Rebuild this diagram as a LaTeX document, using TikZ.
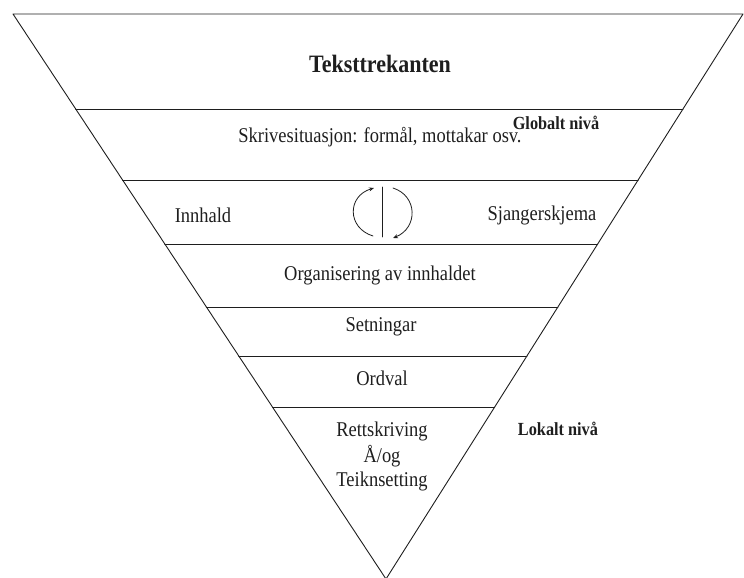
\documentclass[tikz,border=0pt]{standalone}
\usepackage{fontspec}
\setmainfont[FakeStretch=0.88]{Liberation Serif}
\usetikzlibrary{calc,arrows.meta}
\definecolor{ink}{HTML}{1E1E1E}
\tikzset{
  tline/.style={draw=ink, line width=0.9pt},
  lbl/.style={inner sep=0pt, text=ink, font=\fontsize{21}{25}\selectfont},
  niva/.style={inner sep=0pt, text=ink, font=\bfseries\fontsize{18.5}{22}\selectfont},
  turnarrow/.style={draw=ink, line width=0.8pt, -{Stealth[length=5pt,width=4pt]}}
}
\begin{document}
\begin{tikzpicture}[x=1pt, y=-1pt, line join=round, line cap=round]
\useasboundingbox (0,0) rectangle (744,578);
\coordinate (tl) at (13,14); \coordinate (tr) at (743,14); \coordinate (apex) at (386,579);
\draw[tline] (tl)--(tr)--(apex)--cycle;
% the layers of the triangle
\foreach \yy in {109,180,244,307,356,407}{
  \pgfmathsetmacro\t{(\yy-14)/565}
  \draw[tline] ($(tl)!\t!(apex)$) -- ($(tr)!\t!(apex)$);
}
\node[inner sep=0pt, text=ink, font=\bfseries\fontsize{25}{29}\selectfont] (tittel) at (380,64) {Teksttrekanten};
\node[niva] (global) at (556,123) {Globalt nivå};
\node[lbl] (situasjon) at (380,137) {Skrivesituasjon: formål, mottakar osv.};
\node[lbl] (innhald) at (203,215) {Innhald};
\node[lbl] (sjanger) at (542,215) {Sjangerskjema};
\node[lbl] (org) at (380,275) {Organisering av innhaldet};
\node[lbl] (setn) at (381,327) {Setningar};
\node[lbl] (ordval) at (382,378) {Ordval};
\node[niva] (lokalt) at (558,429) {Lokalt nivå};
\node[lbl] (retts) at (382,431) {Rettskriving};
\node[lbl] (aog) at (382,456) {Å/og};
\node[lbl] (teikn) at (382,481) {Teiknsetting};
% the two loops round the bar
\coordinate (bar1) at (382,187); \coordinate (bar2) at (382,237);
\draw[tline, line width=0.8pt] (bar1)--(bar2);
\draw[turnarrow] (373,236) .. controls (347,228) and (347,196) .. (374,188);
\draw[turnarrow] (393,188) .. controls (418,196) and (418,228) .. (393,238);
\end{tikzpicture}
\end{document}
